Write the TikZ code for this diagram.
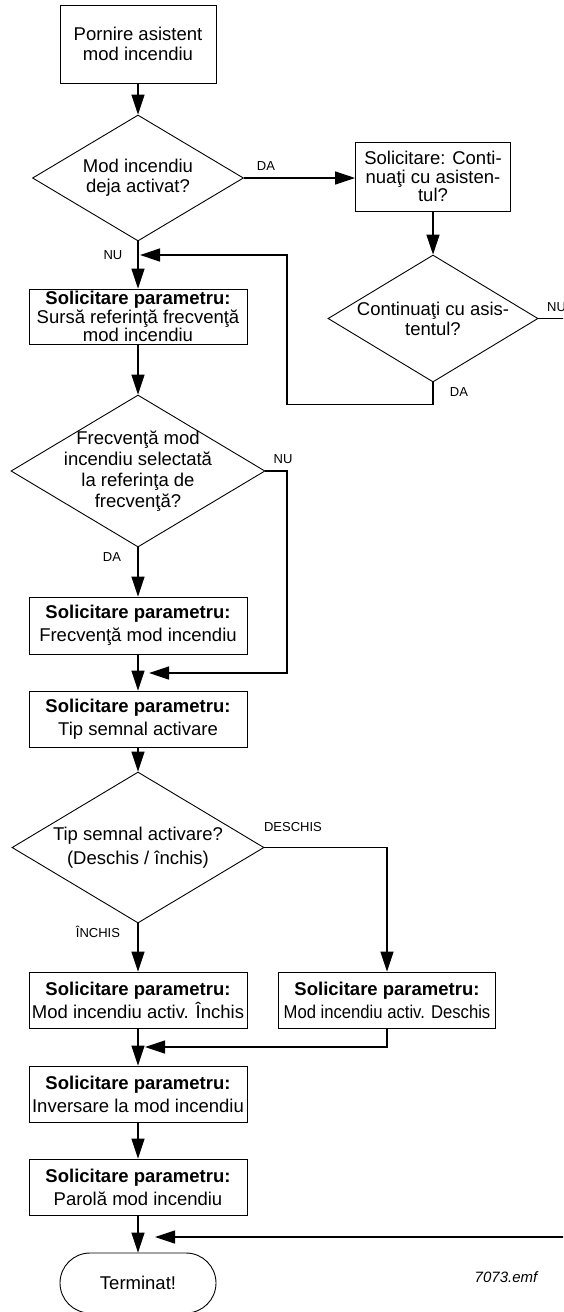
\documentclass[tikz,border=0pt]{standalone}
\usepackage{fontspec}
\setmainfont{Liberation Sans}
\usepackage{graphicx}
\usetikzlibrary{arrows.meta,shapes.geometric}

\tikzset{
  txt/.style={font=\fontsize{18.5}{20}\selectfont, align=center, inner sep=0pt},
  box/.style={draw, line width=0.9pt, rectangle, minimum width=218pt,
              minimum height=56pt, inner sep=0pt, align=center,
              font=\fontsize{18.5}{23}\selectfont},
  dia/.style={draw, line width=0.9pt, diamond, inner sep=0pt},
  lab/.style={font=\fontsize{13}{15}\selectfont, inner sep=0pt},
  conn/.style={line width=1.3pt, -{Triangle[length=20pt,width=13pt]}},
  wire/.style={line width=1.3pt}
}

\begin{document}
\begin{tikzpicture}[x=1pt, y=-1pt]
\useasboundingbox (0,0) rectangle (563,1312);
\clip (0,0) rectangle (563,1312);

% ---- upper part ----
\node[box, minimum width=156pt, minimum height=78pt, font=\fontsize{18.5}{20}\selectfont]
  (b1) at (138,44) {Pornire asistent\\mod incendiu};

\node[dia, minimum width=211pt, minimum height=126pt] (d1) at (138,178) {};
\node[txt] (d1t) at (d1.center) {Mod incendiu\\deja activat?};

\node[box, minimum width=155pt, minimum height=69pt, font=\fontsize{18.5}{18.5}\selectfont]
  (b2) at (433,176.5) {Solicitare: Conti-\\nuaţi cu asisten-\\tul?};

\node[dia, minimum width=210pt, minimum height=127pt] (d2) at (433,318.5) {};
\node[txt] (d2t) at (d2.center) {Continuaţi cu asis-\\tentul?};

\node[box, minimum height=55pt, font=\fontsize{18.5}{17}\selectfont]
  (b3) at (138,316.5) {\textbf{Solicitare parametru:}\\Sursă referinţă frecvenţă\\mod incendiu};

\node[dia, minimum width=254pt, minimum height=152pt] (d3) at (138,471) {};
\node[txt, font=\fontsize{18.5}{21}\selectfont] (d3t) at (d3.center)
  {Frecvenţă mod\\incendiu selectată\\la referinţa de\\frecvenţă?};

\node[box, minimum height=57pt] (b4) at (138,625.5) {\textbf{Solicitare parametru:}\\Frecvenţă mod incendiu};
\node[box] (b5) at (138,719) {\textbf{Solicitare parametru:}\\Tip semnal activare};

\node[dia, minimum width=252pt, minimum height=151pt] (d4) at (138,847.5) {};
\node[txt, font=\fontsize{18.5}{24}\selectfont] (d4t) at (d4.center)
  {Tip semnal activare?\\(Deschis / închis)};

\node[box] (b6) at (138,1000) {\textbf{Solicitare parametru:}\\Mod incendiu activ. Închis};
\node[box, minimum width=217pt] (b7) at (387,1000)
  {\textbf{Solicitare parametru:}\\\scalebox{0.9}[1]{Mod incendiu activ. Deschis}};

\node[box] (b8) at (138,1094) {\textbf{Solicitare parametru:}\\Inversare la mod incendiu};
\node[box] (b9) at (138,1187) {\textbf{Solicitare parametru:}\\Parolă mod incendiu};

\node[draw, line width=0.9pt, rounded corners=30pt, minimum width=156pt,
      minimum height=60pt, inner sep=0pt, font=\fontsize{18.5}{20}\selectfont]
  (t) at (138,1283) {Terminat!};

\node[font=\itshape\fontsize{15}{17}\selectfont, inner sep=0pt] (fn) at (506,1277) {7073.emf};

% ---- branch labels ----
\node[lab] (l1) at (266,166) {DA};
\node[lab] (l2) at (113,255) {NU};
\node[lab, anchor=west] (l3) at (547,307) {NU};
\node[lab] (l4) at (459,392) {DA};
\node[lab] (l5) at (283,459) {NU};
\node[lab] (l6) at (112,557) {DA};
\node[lab] (l7) at (293,827) {DESCHIS};
\node[lab] (l8) at (98,932) {ÎNCHIS};

% ---- merge points on the main column ----
\coordinate (m1) at (140,255);
\coordinate (m2) at (149,673);
\coordinate (m3) at (145,1047);
\coordinate (m4) at (155,1237);

% ---- connectors ----
\draw[conn] (b1.south) -- (d1.north);
\draw[conn] (d1.east) -- (d1.east -| b2.west);
\draw[conn] (b2.south) -- (d2.north);
\draw[conn] (d2.south) -- ++(0,22) -| (287,255) -- (m1);
\draw[conn] (d2.east) -- (600,318.5) -- (600,1237) -- (m4);
\draw[conn] (d1.south) -- (b3.north);
\draw[conn] (b3.south) -- (d3.north);
\draw[conn] (d3.east) -| (287,673) -- (m2);
\draw[conn] (d3.south) -- (b4.north);
\draw[conn] (b4.south) -- (b5.north);
\draw[conn] (b5.south) -- (d4.north);
\draw[conn] (d4.south) -- (b6.north);
\draw[conn] (d4.east) -| (b7.north);
\draw[conn] (b7.south) |- (m3);
\draw[conn] (b6.south) -- (b8.north);
\draw[conn] (b8.south) -- (b9.north);
\draw[conn] (b9.south) -- (t.north);
\end{tikzpicture}
\end{document}
